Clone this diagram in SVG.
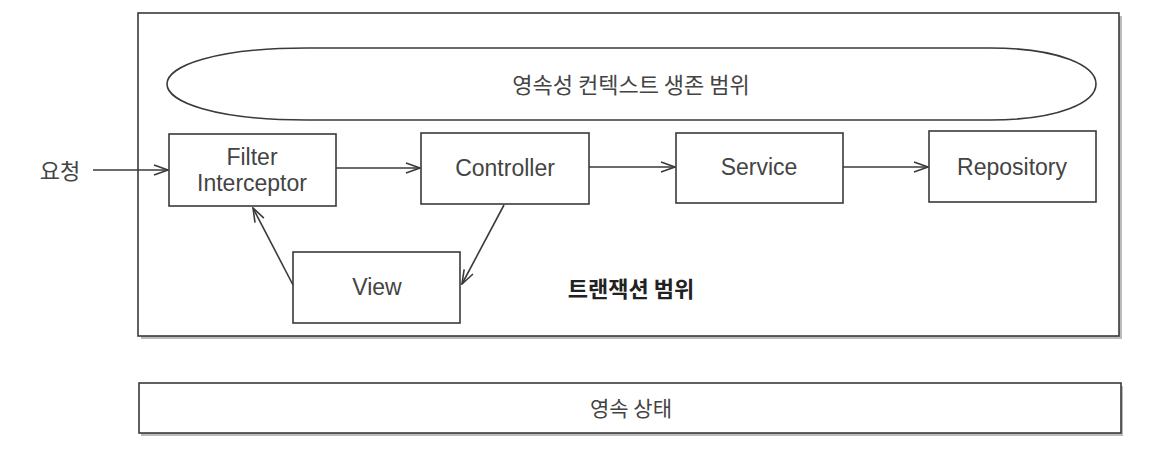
<svg xmlns="http://www.w3.org/2000/svg" width="1150" height="452" viewBox="0 0 1150 452">
<style>
.box{fill:#fff;stroke:#3a3a3a;stroke-width:1.6}
.line{fill:none;stroke:#3a3a3a;stroke-width:1.6}
.t{font-family:"Liberation Sans","Noto Sans CJK KR",sans-serif;font-size:23px;fill:#444;text-anchor:middle;dominant-baseline:central}
.k{font-family:"Noto Sans CJK KR",sans-serif;font-size:22px}
.b{font-weight:bold;fill:#222}
</style>
<defs>
<marker id="arr" viewBox="0 0 16 12" refX="15" refY="6" markerWidth="16" markerHeight="12" markerUnits="userSpaceOnUse" orient="auto">
<path d="M1 1 L15 6 L1 11" fill="none" stroke="#3a3a3a" stroke-width="1.6"/>
</marker>
</defs>
<rect width="1150" height="452" fill="#fff"/>
<g id="transaction-scope">
<rect x="141" y="16" width="981" height="323" fill="#bbb"/>
<rect class="box" x="138" y="13" width="981" height="323"/>
<text class="t k b" x="631" y="287">트랜잭션 범위</text>
</g>
<g id="persistence-context">
<path class="box" d="M307 48 L990 48 C1060 48 1096 66 1096 84 C1096 102 1060 120 990 120 L307 120 C215 120 167 102 167 84 C167 66 215 48 307 48 Z"/>
<text class="t k" x="631" y="83">영속성 컨텍스트 생존 범위</text>
</g>
<g id="request">
<text class="t k" x="60" y="169">요청</text>
</g>
<g id="filter">
<rect class="box" x="169" y="134" width="167" height="72"/>
<text class="t" x="252" y="157">Filter</text>
<text class="t" x="252" y="183">Interceptor</text>
</g>
<g id="controller">
<rect class="box" x="421" y="133" width="168" height="71"/>
<text class="t" x="505" y="168">Controller</text>
</g>
<g id="service">
<rect class="box" x="676" y="133" width="167" height="70"/>
<text class="t" x="759" y="167">Service</text>
</g>
<g id="repository">
<rect class="box" x="929" y="131" width="167" height="71"/>
<text class="t" x="1012" y="167">Repository</text>
</g>
<g id="view">
<rect class="box" x="293" y="252" width="167" height="71"/>
<text class="t" x="377" y="287">View</text>
</g>
<g id="persistent-state">
<rect x="141" y="386" width="982" height="50" fill="#bbb"/>
<rect class="box" x="139" y="383" width="982" height="50"/>
<text class="t k" x="631" y="407" style="font-size:21px">영속 상태</text>
</g>
<g id="connectors">
<line class="line" x1="93" y1="170" x2="168" y2="170" marker-end="url(#arr)"/>
<line class="line" x1="336" y1="168" x2="420" y2="168" marker-end="url(#arr)"/>
<line class="line" x1="589" y1="167" x2="675" y2="167" marker-end="url(#arr)"/>
<line class="line" x1="843" y1="167" x2="928" y2="167" marker-end="url(#arr)"/>
<line class="line" x1="504" y1="205" x2="462" y2="284" marker-end="url(#arr)"/>
<line class="line" x1="293" y1="285" x2="253" y2="208" marker-end="url(#arr)"/>
</g>
</svg>
